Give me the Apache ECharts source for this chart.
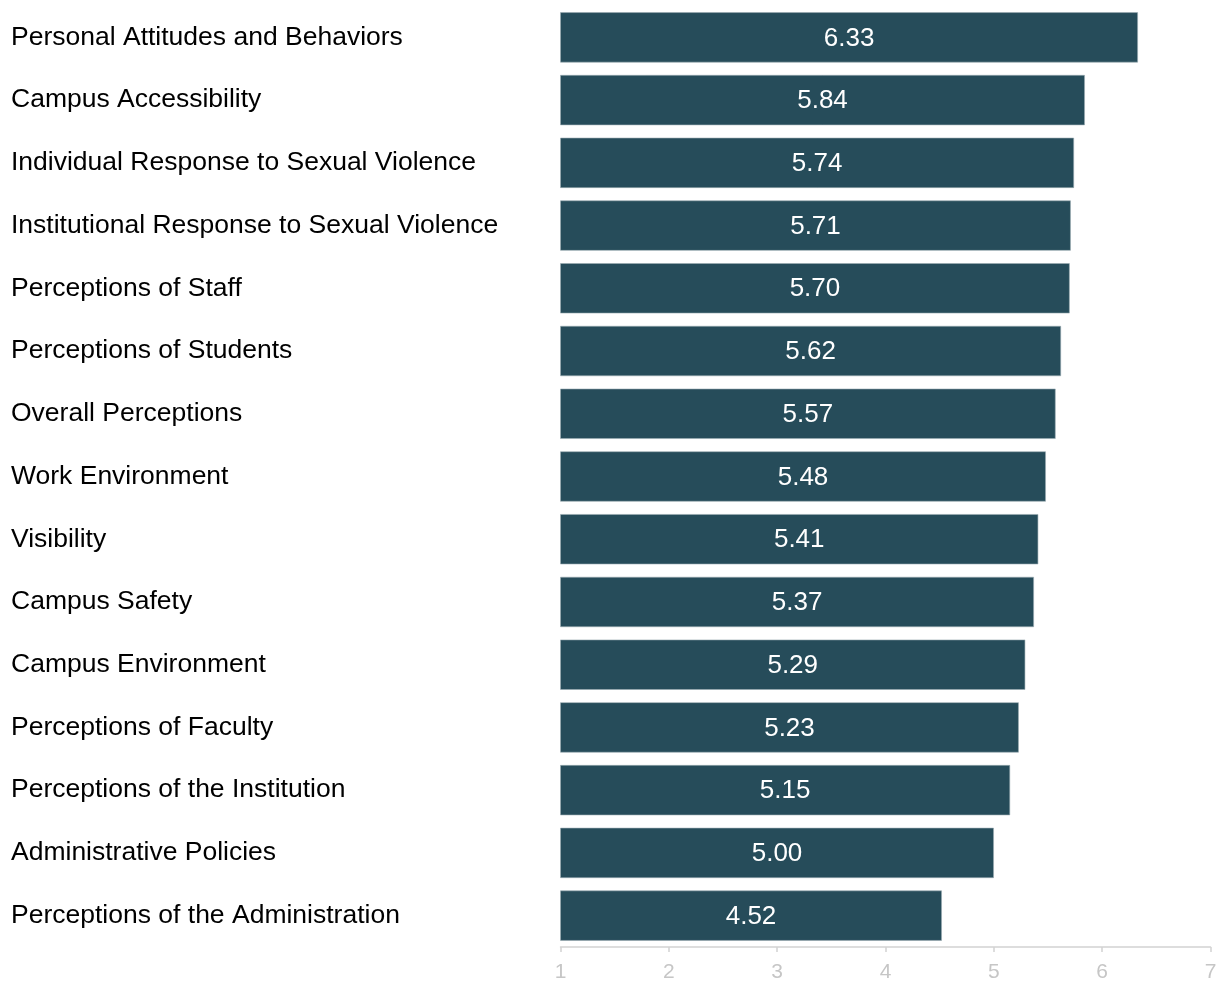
<!DOCTYPE html>
<html>
<head>
<meta charset="utf-8">
<script src="https://cdn.jsdelivr.net/npm/echarts@6/dist/echarts.min.js"></script>
<style>
  html, body { margin: 0; padding: 0; background: #ffffff; }
  #chart { width: 1221px; height: 983px; }
</style>
</head>
<body>
<div id="chart"></div>
<script>
// Mean scores by survey dimension, listed top to bottom
const categories = [
  'Personal Attitudes and Behaviors',
  'Campus Accessibility',
  'Individual Response to Sexual Violence',
  'Institutional Response to Sexual Violence',
  'Perceptions of Staff',
  'Perceptions of Students',
  'Overall Perceptions',
  'Work Environment',
  'Visibility',
  'Campus Safety',
  'Campus Environment',
  'Perceptions of Faculty',
  'Perceptions of the Institution',
  'Administrative Policies',
  'Perceptions of the Administration'
];
const scores = [6.33, 5.84, 5.74, 5.71, 5.70, 5.62, 5.57, 5.48, 5.41, 5.37, 5.29, 5.23, 5.15, 5.00, 4.52];
const scaleTicks = [1, 2, 3, 4, 5, 6, 7];

const chart = echarts.init(document.getElementById('chart'), null, { renderer: 'canvas' });

chart.setOption({
  animation: false,
  backgroundColor: '#ffffff',
  textStyle: { fontFamily: '"Liberation Sans", Arial, sans-serif' },
  grid: { left: 560.5, right: 10.5, top: 6, bottom: 32.4, containLabel: false },
  xAxis: {
    type: 'value',
    min: scaleTicks[0],
    max: scaleTicks[scaleTicks.length - 1],
    interval: 1,
    splitLine: { show: false },
    axisLine: { show: true, lineStyle: { color: '#d2d2d2', width: 1.5 } },
    axisTick: { show: true, length: 5, lineStyle: { color: '#d2d2d2', width: 1.5 } },
    axisLabel: { color: '#c6c6c6', fontSize: 21, margin: 15 }
  },
  yAxis: {
    type: 'category',
    inverse: true,
    data: categories,
    axisLine: { show: false },
    axisTick: { show: false },
    axisLabel: {
      color: '#000000',
      fontSize: 26.5,
      align: 'left',
      margin: 549.5,
      padding: [0, 0, 6, 0]
    }
  },
  series: [{
    type: 'bar',
    data: scores,
    barCategoryGap: '20%',
    itemStyle: { color: '#264c5a', borderColor: '#9aabb2', borderWidth: 0.6 },
    label: {
      show: true,
      position: 'inside',
      offset: [0, 1],
      color: '#ffffff',
      fontSize: 26,
      formatter: p => p.value.toFixed(2)
    }
  }]
});
</script>
</body>
</html>
